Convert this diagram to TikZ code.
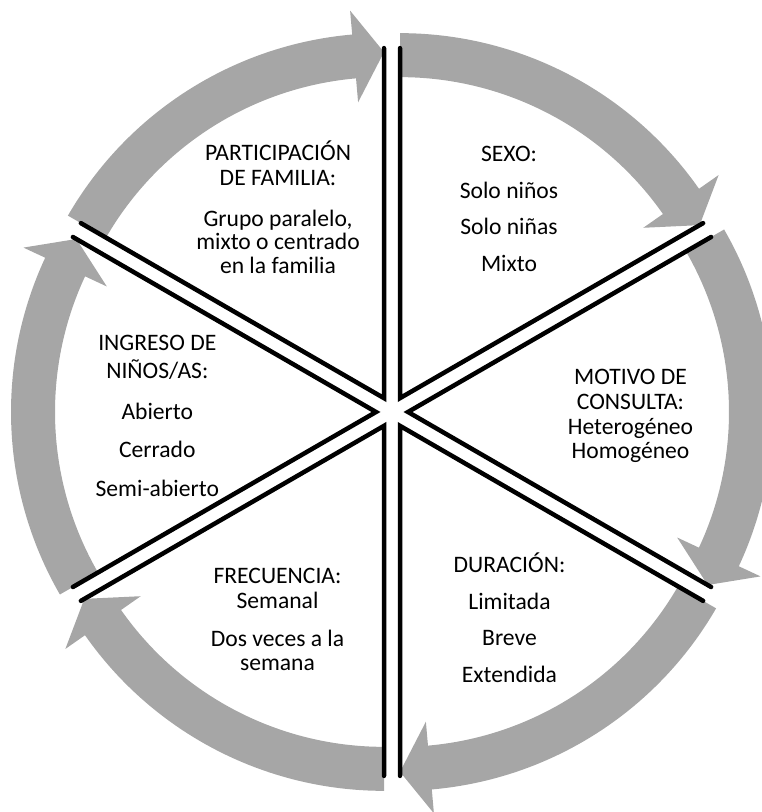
\documentclass[tikz,border=0pt]{standalone}
\usepackage{fontspec}
\setmainfont{Carlito}
\usetikzlibrary{calc}
\definecolor{arrowgray}{RGB}{166,166,166}
\begin{document}
\begin{tikzpicture}[x=1pt,y=1pt,
  txt/.style={anchor=base, inner sep=0pt, font=\fontsize{23.6}{24}\selectfont},
  spoke/.style={line width=4.5pt, line cap=round, line join=miter},
  band/.style={fill=arrowgray, draw=none}]
\useasboundingbox (0,0) rectangle (762,812);
\coordinate (C) at (392,400);
% gray curved arrows
\foreach \t [count=\i] in {60,0,-60,-120,180,120}{
  \coordinate (A\i) at ($(C)+(\t:16)$);
  \pgfmathsetmacro\aone{\t+30}
  \pgfmathsetmacro\atwo{\t-30}
  \pgfmathsetmacro\ab{\t-25}
  \fill[band] ($(A\i)+(\aone:365)$) arc[start angle=\aone, end angle=\ab, radius=365]
    -- ($(A\i)+(\ab:389)$) -- ($(A\i)+(\atwo:346)$) -- ($(A\i)+(\ab:297)$)
    -- ($(A\i)+(\ab:321)$) arc[start angle=\ab, end angle=\aone, radius=321] -- cycle;
}
% black sector edges
\foreach \t [count=\i] in {60,0,-60,-120,180,120}{
  \coordinate (P\i) at ($(A\i)+(\t+30:350)$);
  \coordinate (Q\i) at ($(A\i)+(\t-30:350)$);
  \draw[spoke] (P\i) -- (A\i) -- (Q\i);
}
% texts
\node[txt] (p1) at (278,651) {PARTICIPACIÓN};
\node[txt] (p2) at (278,626) {DE FAMILIA:};
\node[txt] (p3) at (278,585) {Grupo paralelo,};
\node[txt] (p4) at (278,562) {mixto o centrado};
\node[txt] (p5) at (278,538) {en la familia};

\node[txt] (s1) at (509,650.3) {SEXO:};
\node[txt] (s2) at (509,613.7) {Solo niños};
\node[txt] (s3) at (509,577) {Solo niñas};
\node[txt] (s4) at (509,540.3) {Mixto};

\node[txt] (m1) at (630.5,427) {MOTIVO DE};
\node[txt] (m2) at (630.5,402.7) {CONSULTA:};
\node[txt] (m3) at (630.5,377) {Heterogéneo};
\node[txt] (m4) at (630.5,353.7) {Homogéneo};

\node[txt] (d1) at (509.5,239.3) {DURACIÓN:};
\node[txt] (d2) at (509.5,202.7) {Limitada};
\node[txt] (d3) at (509.5,166) {Breve};
\node[txt] (d4) at (509.5,129.3) {Extendida};

\node[txt] (f1) at (277.5,228) {FRECUENCIA:};
\node[txt] (f2) at (277.5,203.7) {Semanal};
\node[txt] (f3) at (277.5,165.3) {Dos veces a la};
\node[txt] (f4) at (277.5,141.3) {semana};

\node[txt] (i1) at (157.3,461.3) {INGRESO DE};
\node[txt] (i2) at (157.3,433.3) {NIÑOS/AS:};
\node[txt] (i3) at (157.3,392.7) {Abierto};
\node[txt] (i4) at (157.3,354.3) {Cerrado};
\node[txt] (i5) at (157.3,315.3) {Semi-abierto};
\end{tikzpicture}
\end{document}
